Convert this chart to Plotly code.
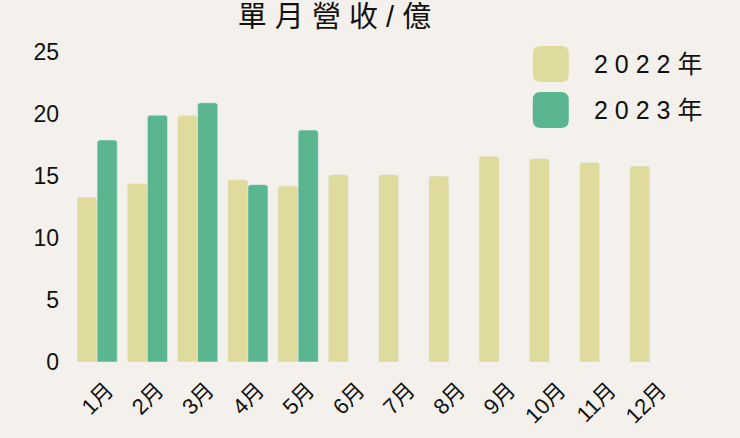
import plotly.graph_objects as go

months = ["1月", "2月", "3月", "4月", "5月", "6月", "7月", "8月", "9月", "10月", "11月", "12月"]
rev_2022 = [13.3, 14.4, 19.9, 14.7, 14.2, 15.1, 15.1, 15.0, 16.6, 16.4, 16.1, 15.8]
rev_2023 = [17.9, 19.9, 20.9, 14.3, 18.7]
series_names = ["2 0 2 2 年", "2 0 2 3 年"]
y_ticks = [0, 5, 10, 15, 20, 25]

c_2022 = "#DEDB9C"
c_2023 = "#59B68E"
bg = "#F4F1EC"
font = "Liberation Sans, Noto Sans CJK TC, sans-serif"

fig = go.Figure()
fig.add_trace(go.Bar(x=months, y=rev_2022, name=series_names[0],
                     marker=dict(color=c_2022, cornerradius=3)))
fig.add_trace(go.Bar(x=months[:len(rev_2023)], y=rev_2023, name=series_names[1],
                     marker=dict(color=c_2023, cornerradius=3)))

# legend drawn by hand: big rounded squares + spaced text
def rounded_square(size, r):
    h = size / 2
    return (f"M {-h + r},{-h} L {h - r},{-h} Q {h},{-h} {h},{-h + r} "
            f"L {h},{h - r} Q {h},{h} {h - r},{h} L {-h + r},{h} "
            f"Q {-h},{h} {-h},{h - r} L {-h},{-h + r} Q {-h},{-h} {-h + r},{-h} Z")

legend_y = [0.961, 0.813]
for name, color, ly in zip(series_names, [c_2022, c_2023], legend_y):
    fig.add_shape(type="path", xref="paper", yref="paper",
                  xsizemode="pixel", ysizemode="pixel",
                  xanchor=0.794, yanchor=ly,
                  path=rounded_square(36, 8),
                  fillcolor=color, line=dict(width=0))
    fig.add_annotation(x=0.862, y=ly, xref="paper", yref="paper",
                       text=name, showarrow=False, xanchor="left", yanchor="middle",
                       font=dict(size=25, color="#111111", family=font))

fig.update_layout(
    width=740, height=438,
    paper_bgcolor=bg, plot_bgcolor=bg,
    margin=dict(l=72, r=65, t=52, b=76),
    barmode="group", bargap=0.2, bargroupgap=0,
    showlegend=False,
    title=dict(text="單 月 營 收 / 億", x=0.452, xanchor="center",
               y=0.962, yanchor="middle",
               font=dict(size=29, color="#111111", family=font)),
    font=dict(family=font, color="#111111"),
)
fig.update_xaxes(showgrid=False, showline=False, ticks="", tickangle=-45,
                 automargin=False, ticklabelstandoff=10, ticklabelshift=10,
                 tickfont=dict(size=22, family=font))
fig.update_yaxes(range=[0, 25], tickvals=y_ticks, showgrid=False, zeroline=False,
                 showline=False, ticks="", ticklabelstandoff=12, automargin=False,
                 tickfont=dict(size=23, family=font))

fig.write_html("out.html", config={"displayModeBar": False},
               post_script="document.body.style.margin='0';")
